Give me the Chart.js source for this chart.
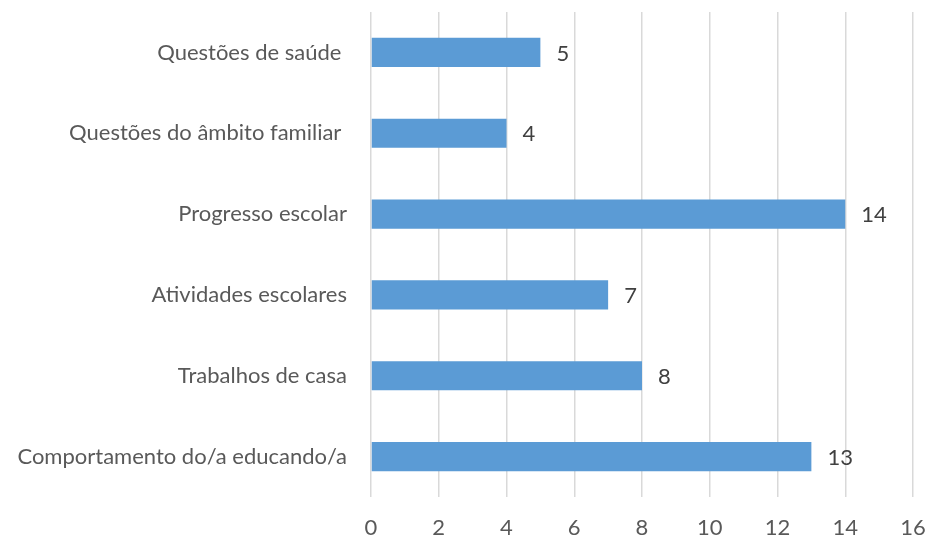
<!DOCTYPE html>
<html>
<head>
<meta charset="utf-8">
<script src="https://cdn.jsdelivr.net/npm/chart.js@4.4.0/dist/chart.umd.min.js"></script>
<style>
  html, body { margin: 0; padding: 0; background: #fff; }
  #wrap { width: 927px; height: 537px; }
</style>
</head>
<body>
<div id="wrap"><canvas id="chart"></canvas></div>
<script>
// Data
const categories = [
  'Questões de saúde ',
  'Questões do âmbito familiar ',
  'Progresso escolar',
  'Atividades escolares',
  'Trabalhos de casa',
  'Comportamento do/a educando/a'
];
const values = [5, 4, 14, 7, 8, 13];
const xTicks = [0, 2, 4, 6, 8, 10, 12, 14, 16];

const textColor = '#595959';
const fontFamily = 'Lato, "Open Sans", sans-serif';
const fontSize = 22;

// draws the value right after each bar
const valueLabels = {
  id: 'valueLabels',
  afterDatasetsDraw(chart) {
    const ctx = chart.ctx;
    const meta = chart.getDatasetMeta(0);
    ctx.save();
    ctx.font = fontSize + 'px ' + fontFamily;
    ctx.fillStyle = '#404040';
    ctx.textAlign = 'left';
    ctx.textBaseline = 'middle';
    meta.data.forEach((bar, i) => {
      ctx.fillText(String(values[i]), bar.x + 16, bar.y + 1);
    });
    ctx.restore();
  }
};

new Chart(document.getElementById('chart'), {
  type: 'bar',
  data: {
    labels: categories,
    datasets: [{
      data: values,
      backgroundColor: '#5b9bd5',
      borderWidth: 0,
      barPercentage: 0.36,
      categoryPercentage: 1
    }]
  },
  options: {
    indexAxis: 'y',
    responsive: true,
    maintainAspectRatio: false,
    animation: false,
    layout: { padding: { top: 12, right: 14, bottom: 0, left: 0 } },
    plugins: {
      legend: { display: false },
      tooltip: { enabled: false }
    },
    scales: {
      x: {
        min: 0,
        max: 16,
        afterBuildTicks: axis => { axis.ticks = xTicks.map(v => ({ value: v })); },
        afterFit: axis => { axis.height = 40; axis.paddingLeft = 0; axis.paddingRight = 0; },
        grid: { color: '#d9d9d9', lineWidth: 1.5, drawTicks: false },
        border: { display: false },
        ticks: { color: textColor, padding: 18, font: { family: fontFamily, size: fontSize } }
      },
      y: {
        afterFit: axis => { axis.width = 371; axis.paddingTop = 0; axis.paddingBottom = 0; },
        grid: { display: false, drawTicks: false },
        border: { display: false },
        ticks: { color: textColor, padding: 24, font: { family: fontFamily, size: fontSize } }
      }
    }
  },
  plugins: [valueLabels]
});
</script>
</body>
</html>
